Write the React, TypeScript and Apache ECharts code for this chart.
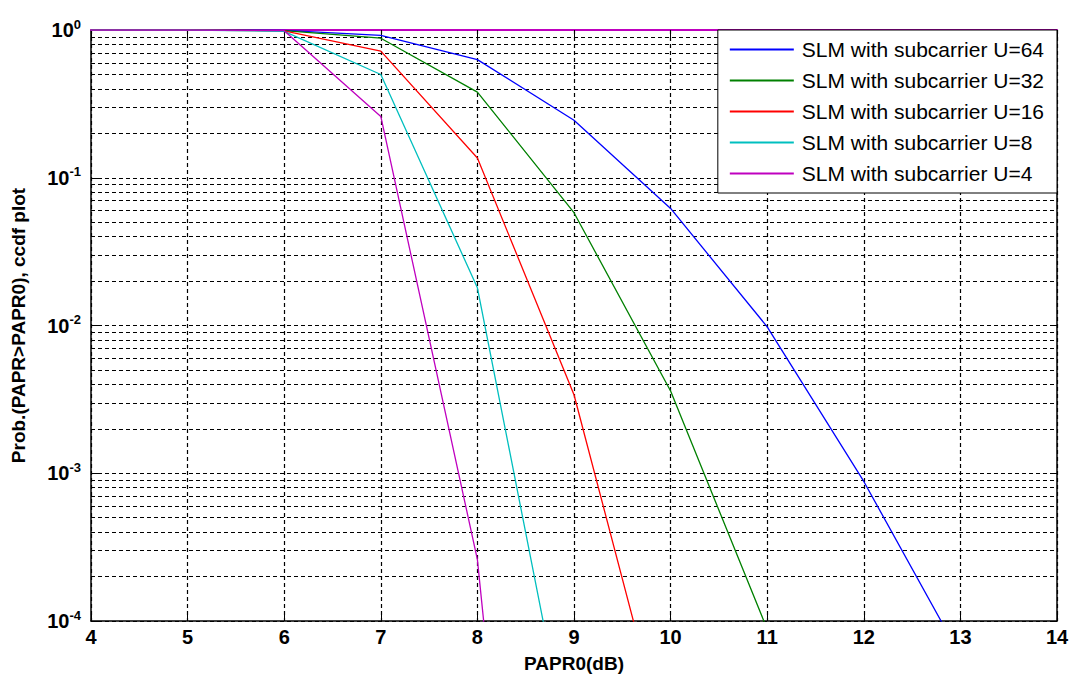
import React, { useEffect, useRef } from "react";
import * as echarts from "echarts";

// PAPR0 (dB) sample points
const papr = [4, 5, 6, 7, 8, 9, 10, 11, 12, 13];

// CCDF values (one per papr point, truncated when far below 1e-4)
const u64 = [1, 1, 0.995, 0.92, 0.63, 0.245, 0.062, 0.0098, 0.00088, 0.000058];
const u32 = [1, 1, 0.99, 0.88, 0.38, 0.058, 0.0036, 0.000088];
const u16 = [1, 1, 0.985, 0.72, 0.136, 0.0034, 0.000011];
const u8 = [1, 1, 0.98, 0.5, 0.018, 0.0000087];
const u4 = [1, 1, 0.99, 0.26, 0.00026, 1e-10];

const seriesNames = [
  "SLM with subcarrier U=64",
  "SLM with subcarrier U=32",
  "SLM with subcarrier U=16",
  "SLM with subcarrier U=8",
  "SLM with subcarrier U=4",
];
const seriesValues = [u64, u32, u16, u8, u4];
const seriesColors = ["#0000FF", "#008000", "#FF0000", "#00BFBF", "#BF00BF"];

// x ticks
const xMin = 4;
const xMax = 14;
// y (log) range
const yMin = 1e-4;
const yMax = 1;
// minor grid lines of the log axis
const minorMantissas = [2, 3, 4, 5, 6, 7, 8, 9];
const minorDecades = [-4, -3, -2, -1];

const FONT = "'Liberation Sans', Arial, sans-serif";

export default function App() {
  const ref = useRef<HTMLDivElement>(null);
  useEffect(() => {
    if (!ref.current) return;
    const chart = echarts.init(ref.current, null, { renderer: "svg" });
    const minorVals: number[] = [];
    minorDecades.forEach((d) =>
      minorMantissas.forEach((m) => minorVals.push(m * Math.pow(10, d)))
    );
    const dash = [4, 3];
    const gridW = 1.2;
    const series: any[] = seriesNames.map((name, i) => ({
      name,
      type: "line",
      xAxisIndex: 0,
      yAxisIndex: 0,
      symbol: "none",
      clip: true,
      lineStyle: { color: seriesColors[i], width: 1.3 },
      itemStyle: { color: seriesColors[i] },
      data: seriesValues[i].map((v, j) => [papr[j], v]),
      z: 3,
    }));
    series.push({
      name: "minor-grid",
      type: "line",
      symbol: "none",
      silent: true,
      z: 1,
      lineStyle: { opacity: 0 },
      data: [[xMin, yMax]],
      markLine: {
        silent: true,
        symbol: "none",
        precision: 8,
        z: 1,
        label: { show: false },
        lineStyle: { color: "#000", type: dash, width: gridW },
        data: minorVals.map((v) => ({ yAxis: v })),
      },
    });

    chart.setOption({
      animation: false,
      backgroundColor: "#fff",
      grid: { left: 91, right: 12, top: 30, bottom: 58, outerBoundsMode: "none" },
      legend: {
        data: seriesNames,
        orient: "vertical",
        right: 12,
        top: 30,
        z: 20,
        backgroundColor: "#fff",
        borderColor: "#000",
        borderWidth: 1,
        padding: [9, 13, 9, 12],
        icon: "rect",
        itemWidth: 64,
        itemHeight: 2,
        itemGap: 10,
        textStyle: { fontFamily: FONT, fontSize: 21, color: "#000", lineHeight: 20, padding: [0, 0, 0, 3] },
      },
      xAxis: [
        {
          type: "value",
          min: xMin,
          max: xMax,
          interval: 1,
          position: "bottom",
          name: "PAPR0(dB)",
          nameLocation: "middle",
          nameGap: 33,
          nameTextStyle: { fontFamily: FONT, fontWeight: "bold", fontSize: 19, color: "#000" },
          axisLine: { lineStyle: { color: "#000", width: 1.5 } },
          axisTick: { inside: true, length: 7, lineStyle: { color: "#000" } },
          axisLabel: { fontFamily: FONT, fontWeight: "bold", fontSize: 20, color: "#000", margin: 6 },
          splitLine: { show: true, lineStyle: { color: "#000", type: dash, width: gridW } },
        },
        {
          type: "value",
          min: xMin,
          max: xMax,
          interval: 1,
          position: "top",
          axisLine: { lineStyle: { color: "#BF00BF", width: 2 } },
          axisTick: { inside: true, length: 7, lineStyle: { color: "#000" } },
          axisLabel: { show: false },
          splitLine: { show: false },
        },
      ],
      yAxis: [
        {
          type: "log",
          logBase: 10,
          min: yMin,
          max: yMax,
          position: "left",
          name: "Prob.(PAPR>PAPR0), ccdf plot",
          nameLocation: "middle",
          nameGap: 63,
          nameTextStyle: { fontFamily: FONT, fontWeight: "bold", fontSize: 19, color: "#000" },
          axisLine: { show: true, lineStyle: { color: "#000", width: 1.5 } },
          axisTick: { inside: true, length: 7, lineStyle: { color: "#000" } },
          axisLabel: {
            margin: 10,
            formatter: (v: number) => {
              const e = Math.round(Math.log10(v));
              return `{b|10}{s|${e === 0 ? "0" : "-" + Math.abs(e)}}`;
            },
            rich: {
              b: { fontFamily: FONT, fontWeight: "bold", fontSize: 20, color: "#000" },
              s: {
                fontFamily: FONT,
                fontWeight: "bold",
                fontSize: 13,
                color: "#000",
                verticalAlign: "bottom",
                padding: [0, 0, 12, 0],
              },
            },
          },
          splitLine: { show: true, lineStyle: { color: "#000", type: dash, width: gridW } },
        },
        {
          type: "log",
          logBase: 10,
          min: yMin,
          max: yMax,
          position: "right",
          axisLine: { show: true, lineStyle: { color: "#000", width: 1.5 } },
          axisTick: { inside: true, length: 7, lineStyle: { color: "#000" } },
          axisLabel: { show: false },
          splitLine: { show: false },
        },
      ],
      series,
    });
    return () => chart.dispose();
  }, []);
  return (
    <div
      ref={ref}
      style={{ position: "fixed", left: 0, top: 0, width: 1069, height: 679, background: "#fff" }}
    />
  );
}
